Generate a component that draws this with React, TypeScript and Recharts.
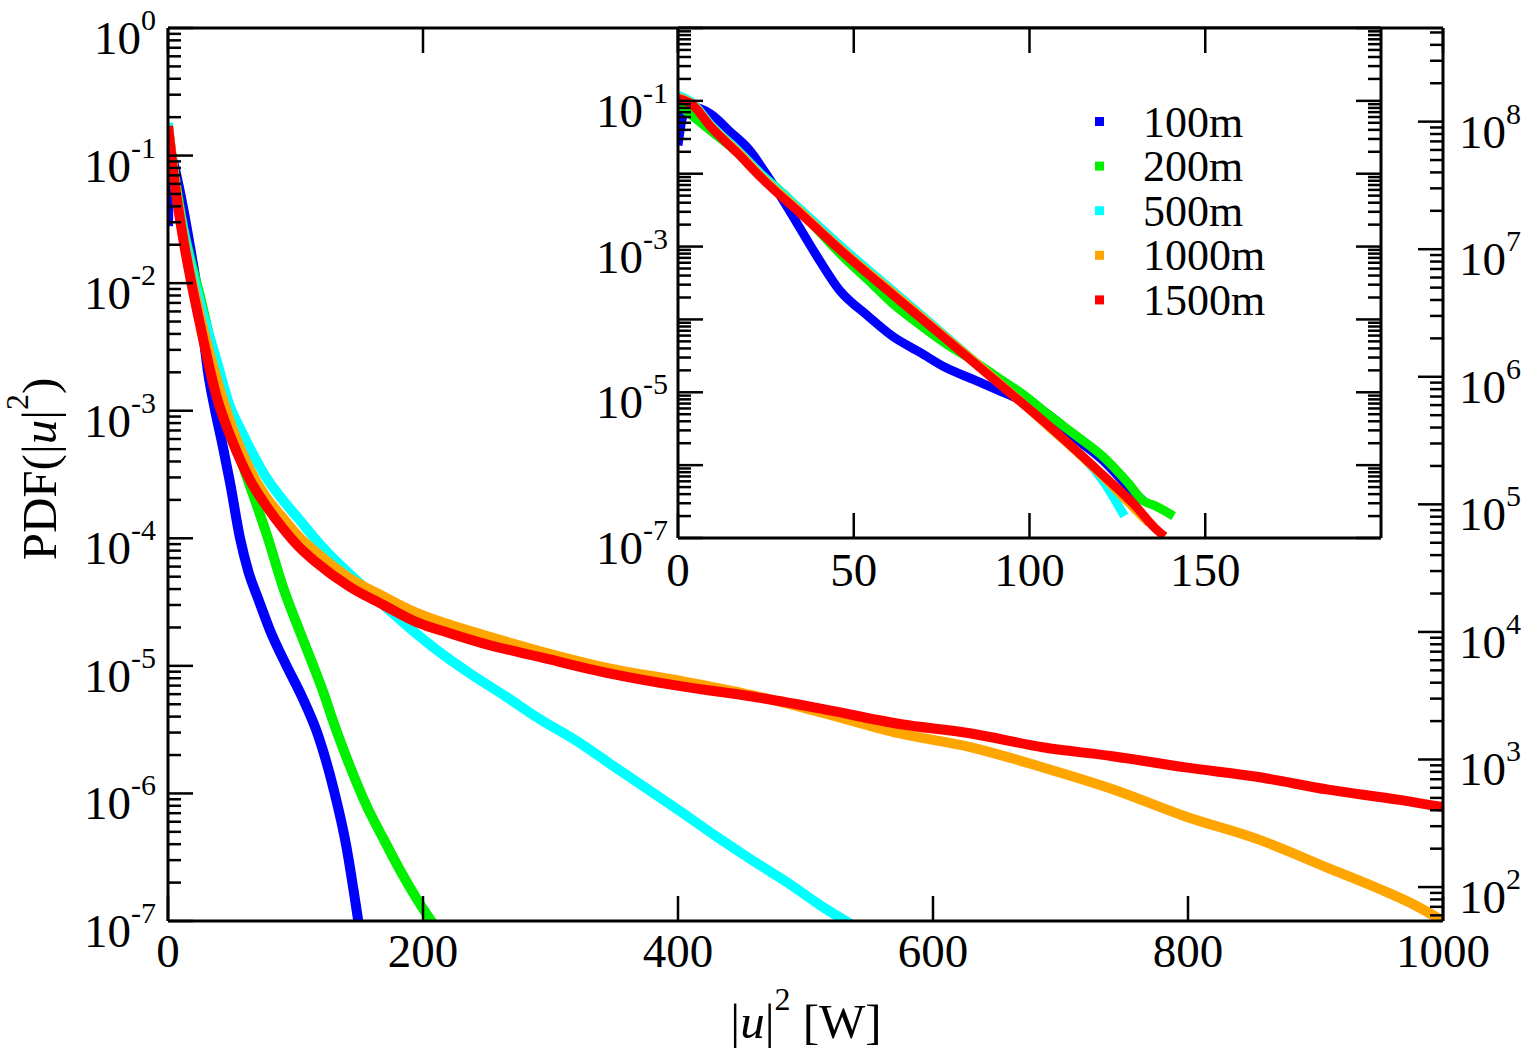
import React from 'react';
import { LineChart, Line, XAxis, YAxis, CartesianGrid } from 'recharts';

const seriesNames = ['100m', '200m', '500m', '1000m', '1500m'];
const seriesColors = ['#0000ff', '#00f000', '#00ffff', '#ffa500', '#ff0000'];

// main plot: [|u|^2, PDF]
const main100m = [
  [0, 2.8e-2], [1.5, 1.0e-1], [4, 8.9e-2], [8, 6.0e-2], [12, 3.8e-2], [17, 2.0e-2],
  [22, 1.0e-2], [27, 4.5e-3], [31.4, 2.0e-3], [37, 1.0e-3], [43, 5.25e-4], [48.6, 2.75e-4],
  [56.5, 1.0e-4], [63, 5.5e-5], [71, 3.3e-5], [80, 1.9e-5], [93, 1.0e-5], [105, 5.75e-6],
  [118, 2.8e-6], [130, 1.07e-6], [140, 3.8e-7], [147, 1.4e-7], [150, 8.9e-8],
];
const main200m = [
  [0, 1.6e-1], [5, 7.1e-2], [12, 2.7e-2], [18, 1.48e-2], [25, 7.9e-3], [33, 3.55e-3],
  [40, 1.66e-3], [47, 8.9e-4], [55, 4.8e-4], [63, 2.8e-4], [71, 1.66e-4], [78.4, 1.0e-4],
  [90, 4.2e-5], [103, 1.9e-5], [114, 1.0e-5], [123, 5.75e-6], [129, 3.8e-6], [142, 1.7e-6],
  [156, 7.9e-7], [169, 4.4e-7], [182, 2.5e-7], [195, 1.5e-7], [208, 9.5e-8],
];
const main500m = [
  [0, 1.8e-1], [5, 6.5e-2], [12, 2.6e-2], [25, 7.1e-3], [38, 2.5e-3], [48, 1.12e-3],
  [58, 6.8e-4], [68, 4.3e-4], [77, 3.0e-4], [90, 2.0e-4], [103, 1.4e-4], [114, 1.03e-4],
  [127, 7.4e-5], [142, 5.3e-5], [169, 3.0e-5], [182, 2.3e-5], [195, 1.78e-5], [210, 1.35e-5],
  [237, 8.7e-6], [265, 5.75e-6], [292, 3.8e-6], [320, 2.6e-6], [347, 1.7e-6], [375, 1.1e-6],
  [403, 7.1e-7], [430, 4.6e-7], [458, 3.0e-7], [486, 2.0e-7], [513, 1.3e-7], [540, 8.9e-8],
];
const main1000m = [
  [0, 1.7e-1], [5, 6.6e-2], [12, 2.3e-2], [25, 5.6e-3], [38, 1.8e-3], [51, 7.1e-4],
  [64, 3.5e-4], [77, 2.1e-4], [90, 1.45e-4], [103, 1.02e-4], [116, 7.8e-5], [142, 4.9e-5],
  [169, 3.5e-5], [195, 2.6e-5], [221, 2.1e-5], [247, 1.75e-5], [292, 1.3e-5], [347, 9.5e-6],
  [403, 7.6e-6], [458, 5.9e-6], [513, 4.3e-6], [574, 2.95e-6], [630, 2.3e-6], [686, 1.6e-6],
  [742, 1.07e-6], [798, 6.6e-7], [854, 4.4e-7], [910, 2.6e-7], [952, 1.75e-7], [980, 1.3e-7],
  [1000, 1.0e-7],
];
const main1500m = [
  [0, 1.7e-1], [5, 6.3e-2], [12, 2.2e-2], [25, 4.8e-3], [38, 1.3e-3], [51, 5.6e-4],
  [64, 2.9e-4], [77, 1.8e-4], [90, 1.2e-4], [103, 8.5e-5], [116, 6.5e-5], [142, 4.2e-5],
  [169, 3.0e-5], [195, 2.2e-5], [221, 1.8e-5], [247, 1.5e-5], [292, 1.17e-5], [347, 8.7e-6],
  [403, 6.9e-6], [458, 5.75e-6], [513, 4.6e-6], [574, 3.5e-6], [630, 2.95e-6], [686, 2.3e-6],
  [742, 1.95e-6], [798, 1.6e-6], [854, 1.35e-6], [910, 1.07e-6], [966, 8.9e-7], [1000, 7.8e-7],
];

// inset
const inset100m = [
  [0, 2.45e-2], [1.5, 6.3e-2], [4, 8.3e-2], [9.3, 6.6e-2], [15, 3.7e-2], [20, 2.2e-2],
  [26, 8.5e-3], [32, 2.95e-3], [39, 8.1e-4], [46, 2.5e-4], [54, 1.12e-4], [61, 5.9e-5],
  [69, 3.5e-5], [76, 2.2e-5], [84, 1.5e-5], [91, 1.07e-5], [98, 7.6e-6], [106, 4.7e-6],
  [113, 2.35e-6], [121, 1.15e-6], [128, 5.1e-7], [132.5, 3.2e-7],
];
const inset200m = [
  [0, 8.9e-2], [9.3, 3.9e-2], [17, 1.95e-2], [24, 9.5e-3], [32, 4.3e-3], [39, 1.86e-3],
  [46, 8.1e-4], [54, 3.5e-4], [61, 1.66e-4], [69, 8.3e-5], [76, 4.7e-5], [84, 2.7e-5],
  [91, 1.6e-5], [98, 9.5e-6], [106, 4.7e-6], [113, 2.6e-6], [121, 1.3e-6], [128, 5.75e-7],
  [132.5, 3.2e-7], [135.5, 2.8e-7], [141, 2.0e-7],
];
const inset500m = [
  [0, 1.2e-1], [4, 9.5e-2], [9.3, 4.7e-2], [17, 2.1e-2], [24, 9.5e-3], [35, 3.2e-3],
  [46, 1.05e-3], [61, 2.5e-4], [76, 6.0e-5], [91, 1.4e-5], [106, 3.2e-6], [121, 6.0e-7],
  [127, 2.0e-7],
];
const inset1000m = [
  [0, 1.12e-1], [4, 9.1e-2], [9.3, 4.5e-2], [17, 2.0e-2], [24, 8.9e-3], [35, 2.95e-3],
  [46, 9.5e-4], [61, 2.35e-4], [76, 5.75e-5], [91, 1.4e-5], [106, 3.2e-6], [121, 6.9e-7],
  [130, 2.5e-7], [134, 1.6e-7],
];
const inset1500m = [
  [0, 1.07e-1], [4, 8.9e-2], [9.3, 4.4e-2], [17, 1.9e-2], [24, 8.5e-3], [35, 2.8e-3],
  [46, 9.1e-4], [61, 2.2e-4], [76, 5.5e-5], [91, 1.35e-5], [106, 3.3e-6], [121, 7.2e-7],
  [130, 2.8e-7], [135.5, 1.4e-7], [138.4, 1.05e-7],
];

const mainXTicks = [0, 200, 400, 600, 800, 1000];
const insetXTicks = [0, 50, 100, 150];
const mainYDomain = [1e-7, 1];
const rightYDomain = [54.2, 5.42e8];
const insetYDomain = [1e-7, 1];

const toPoints = (rows: number[][]) => rows.map(([x, y]) => ({ x, y }));
const mainSeries = [main100m, main200m, main500m, main1000m, main1500m].map(toPoints);
const insetSeries = [inset100m, inset200m, inset500m, inset1000m, inset1500m].map(toPoints);

// decade ticks with 2..9 minors, kept inside the domain
const logTicks = (lo: number, hi: number) => {
  const out: number[] = [];
  for (let e = Math.floor(Math.log10(lo)); e <= Math.ceil(Math.log10(hi)); e++) {
    for (let m = 1; m < 10; m++) {
      const v = m * Math.pow(10, e);
      if (v >= lo * 0.999 && v <= hi * 1.001) out.push(v);
    }
  }
  return out;
};

const FONT = "'Liberation Serif', 'Times New Roman', serif";
const axisLine = { stroke: '#000', strokeWidth: 3 };

const yTick = (edge: number, dir: number, labelX: number, anchor: string, showLabel: (e: number) => boolean) =>
  (props: any) => {
    const { y, payload } = props;
    const lg = Math.log10(payload.value);
    const e = Math.round(lg);
    const major = Math.abs(lg - e) < 1e-6;
    const len = major ? 25 : 13;
    return (
      <g>
        <line x1={edge} x2={edge + dir * len} y1={y} y2={y} stroke="#000" strokeWidth={2.5} />
        {major && showLabel(e) && (
          <text x={labelX} y={y + 26} textAnchor={anchor} fontFamily={FONT} fontSize={47} fill="#000">
            10<tspan dy={-24} fontSize={30}>{e}</tspan>
          </text>
        )}
      </g>
    );
  };

const xTick = (edge: number, dir: number, labelY: number | null) => (props: any) => {
  const { x, payload } = props;
  return (
    <g>
      <line x1={x} x2={x} y1={edge} y2={edge + dir * 25} stroke="#000" strokeWidth={2.5} />
      {labelY !== null && (
        <text x={x} y={labelY} textAnchor="middle" fontFamily={FONT} fontSize={47} fill="#000">
          {payload.value}
        </text>
      )}
    </g>
  );
};

const renderLines = (series: { x: number; y: number }[][], width: number) =>
  series.map((data, i) => (
    <Line
      key={seriesNames[i]}
      xAxisId="b"
      yAxisId="l"
      data={data}
      dataKey="y"
      name={seriesNames[i]}
      type="monotone"
      stroke={seriesColors[i]}
      strokeWidth={width}
      dot={false}
      isAnimationActive={false}
    />
  ));

export default function App() {
  const mainTicks = logTicks(mainYDomain[0], mainYDomain[1]);
  const rightTicks = logTicks(rightYDomain[0], rightYDomain[1]);
  const insetTicks = logTicks(insetYDomain[0], insetYDomain[1]);

  return (
    <div style={{ position: 'absolute', left: 0, top: 0, width: 1521, height: 1048, background: '#fff', overflow: 'hidden' }}>
      <div style={{ position: 'absolute', left: 0, top: 0 }}>
        <LineChart width={1521} height={1048} margin={{ top: 0, right: 0, bottom: 0, left: 0 }}>
          <XAxis xAxisId="b" dataKey="x" type="number" domain={[0, 1000]} ticks={mainXTicks} interval={0}
            height={127} axisLine={axisLine} tickLine={false} tick={xTick(921, -1, 967)} allowDataOverflow />
          <XAxis xAxisId="t" orientation="top" dataKey="x" type="number" domain={[0, 1000]} ticks={mainXTicks} interval={0}
            height={28} axisLine={axisLine} tickLine={false} tick={xTick(28, 1, null)} allowDataOverflow />
          <YAxis yAxisId="l" dataKey="y" type="number" scale="log" domain={mainYDomain} ticks={mainTicks} interval={0}
            width={168} axisLine={axisLine} tickLine={false} tick={yTick(168, 1, 156, 'end', () => true)} allowDataOverflow />
          <YAxis yAxisId="r" orientation="right" type="number" scale="log" domain={rightYDomain} ticks={rightTicks} interval={0}
            width={78} axisLine={axisLine} tickLine={false} tick={yTick(1443, -1, 1459, 'start', () => true)} allowDataOverflow />
          {renderLines(mainSeries, 10)}
        </LineChart>
      </div>

      <div style={{ position: 'absolute', left: 580, top: 0 }}>
        <LineChart width={820} height={600} margin={{ top: 0, right: 0, bottom: 0, left: 0 }}>
          <CartesianGrid xAxisId="b" yAxisId="l" fill="#fff" stroke="none" horizontal={false} vertical={false} />
          <XAxis xAxisId="b" dataKey="x" type="number" domain={[0, 200]} ticks={insetXTicks} interval={0}
            height={62} axisLine={axisLine} tickLine={false} tick={xTick(538, -1, 586)} allowDataOverflow />
          <XAxis xAxisId="t" orientation="top" dataKey="x" type="number" domain={[0, 200]} ticks={insetXTicks} interval={0}
            height={28} axisLine={axisLine} tickLine={false} tick={xTick(28, 1, null)} allowDataOverflow />
          <YAxis yAxisId="l" dataKey="y" type="number" scale="log" domain={insetYDomain} ticks={insetTicks} interval={0}
            width={98} axisLine={axisLine} tickLine={false} tick={yTick(98, 1, 88, 'end', (e) => e % 2 !== 0)} allowDataOverflow />
          <YAxis yAxisId="r" orientation="right" type="number" scale="log" domain={insetYDomain} ticks={insetTicks} interval={0}
            width={19} axisLine={axisLine} tickLine={false} tick={yTick(801, -1, 0, 'start', () => false)} allowDataOverflow />
          {renderLines(insetSeries, 9)}
        </LineChart>
      </div>

      <svg width={1521} height={1048} style={{ position: 'absolute', left: 0, top: 0, pointerEvents: 'none' }}>
        <text x={806} y={1038} textAnchor="middle" fontFamily={FONT} fontSize={49} fill="#000">
          |<tspan fontStyle="italic">u</tspan>|<tspan dy={-28} fontSize={32}>2</tspan>
          <tspan dy={28}> [W]</tspan>
        </text>
        <text transform="translate(56,469) rotate(-90)" textAnchor="middle" fontFamily={FONT} fontSize={49} fill="#000">
          PDF(|<tspan fontStyle="italic">u</tspan>|<tspan dy={-28} fontSize={32}>2</tspan>
          <tspan dy={28}>)</tspan>
        </text>
        {seriesNames.map((name, i) => (
          <g key={name}>
            <rect x={1095} y={117 + i * 44.6} width={9} height={9} fill={seriesColors[i]} />
            <text x={1143} y={136.5 + i * 44.6} fontFamily={FONT} fontSize={44} fill="#000">{name}</text>
          </g>
        ))}
      </svg>
    </div>
  );
}
